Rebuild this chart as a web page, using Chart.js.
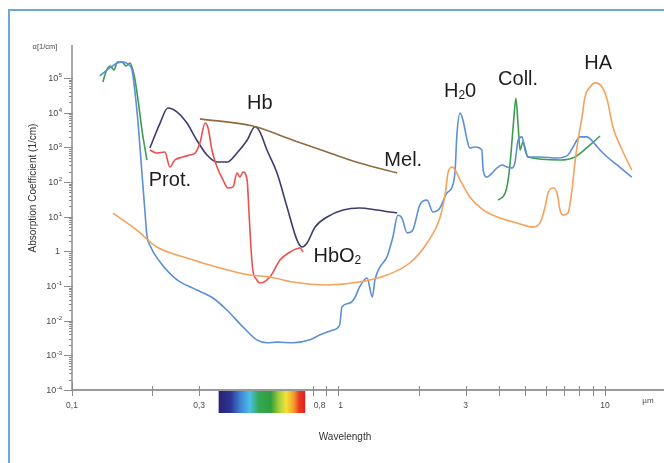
<!DOCTYPE html>
<html><head><meta charset="utf-8">
<script src="https://cdn.jsdelivr.net/npm/chart.js@4"></script>
<style>html,body{margin:0;padding:0;background:#fff;}canvas{display:block;}</style>
</head><body>
<canvas id="c" width="664" height="463"></canvas>
<script>
// ---- data (wavelength in µm, absorption coefficient in 1/cm) ----
const waterWl = [0.127,0.139,0.148,0.156,0.162,0.168,0.172,0.177,0.183,0.188,0.191,0.196,0.214,0.248,0.294,0.338,0.382,0.438,0.494,0.539,0.588,0.675,0.782,0.853,0.954,1.01,1.03,1.10,1.15,1.20,1.28,1.34,1.37,1.43,1.52,1.60,1.67,1.73,1.81,1.90,2.02,2.15,2.26,2.40,2.55,2.67,2.74,2.78,2.86,2.93,3.04,3.11,3.25,3.45,3.49,3.61,3.77,3.93,4.11,4.29,4.48,4.59,4.72,4.88,5.01,5.14,5.70,6.61,7.26,7.59,8.06,8.56,9.02,9.58,10.2,11.1,12.6];
const waterAbs = [1.14e5,2.0e5,2.7e5,2.9e5,2.5e5,1.7e5,4.5e4,5.0e3,181,12.7,2.9,1.5,0.49,0.149,0.077,0.045,0.020,0.0066,0.0028,0.0023,0.0024,0.0023,0.0028,0.0039,0.0054,0.0075,0.025,0.032,0.045,0.094,0.17,0.048,0.15,0.35,0.69,2.6,11,9.1,3.4,4.1,22,30,13.6,17.8,48,72,221,2.2e3,9.8e3,6.1e3,1.6e3,955,1.02e3,836,221,139,181,253,309,270,253,352,1.6e3,2.0e3,836,525,525,491,600,1.02e3,2.0e3,2.0e3,1.42e3,836,525,309,139];

const collUvWl = [0.1306,0.134,0.139,0.1438,0.148,0.154,0.1595,0.165,0.171,0.177,0.183,0.191];
const collUvAbs = [7.65e4,1.49e5,2.21e5,1.70e5,2.89e5,2.89e5,2.21e5,2.70e5,1.22e5,2.3e4,3.2e3,430];

const collIrWl = [3.97,4.22,4.33,4.40,4.48,4.56,4.63,4.72,4.80,4.92,5.14,6.78,7.71,8.79,9.58];
const collIrAbs = [30,48,114,309,1.6e3,8.5e3,2.6e4,4.4e3,836,1.42e3,525,430,525,1.17e3,2.12e3];

const hbo2Wl = [0.196,0.208,0.223,0.233,0.243,0.261,0.277,0.290,0.302,0.316,0.324,0.335,0.350,0.369,0.385,0.402,0.416,0.427,0.438,0.454,0.462,0.470,0.477,0.494,0.507,0.553,0.603,0.658,0.717,0.736];
const hbo2Abs = [836,685,732,270,430,525,600,685,1.33e3,5.0e3,3.6e3,836,270,114,67,72,181,139,194,114,11.1,1.09,0.289,0.149,0.122,0.182,0.56,0.955,1.25,0.955];

const hbWl = [0.196,0.214,0.229,0.248,0.270,0.294,0.321,0.350,0.382,0.416,0.454,0.486,0.507,0.539,0.588,0.641,0.699,0.730,0.762,0.817,0.906,1.04,1.20,1.39,1.66];
const hbAbs = [955,5.0e3,1.36e4,1.04e4,5.0e3,1.6e3,600,377,377,685,1.6e3,3.9e3,2.8e3,836,181,19,2.1,1.33,1.74,5.0,9.8,15.6,17.8,15.6,12.7];

const melWl = [0.302,0.477,0.675,0.906,1.20,1.66];
const melAbs = [6.6e3,4.1e3,1.6e3,732,352,181];

const haWl = [0.1425,0.175,0.208,0.270,0.359,0.466,0.553,0.675,0.906,1.20,1.52,1.85,2.15,2.40,2.51,2.58,2.67,2.74,2.86,3.11,3.49,4.04,4.67,5.37,5.70,5.96,6.11,6.38,6.61,6.78,6.95,7.26,7.52,7.71,7.92,8.20,8.41,8.79,9.17,9.75,10.2,10.7,11.6,12.6];
const haAbs = [12.7,4.1,1.33,0.64,0.33,0.207,0.182,0.130,0.107,0.130,0.207,0.46,1.74,9.1,42,194,270,221,114,37,15.6,9.1,6.6,5.0,6.6,19,48,67,48,15.6,11.1,12.7,59,352,1.6e3,7.5e3,2.8e4,5.5e4,7.2e4,5.5e4,2.3e4,3.9e3,836,221];

// ---- ticks and labels ----
const yTickExps = [-4,-3,-2,-1,0,1,2,3,4,5];
const xTickValues = [0.1,0.3,0.8,1,3,10];
const xTickLabels = ['0,1','0,3','0,8','1','3','10'];
const xMinorTicks = [0.2,0.9,2,4,5,6,7,8,9];
const spectrumRange = [0.355,0.75];
const annotationTexts = [
  [['Hb']], [['Prot.']], [['Mel.']], [['HbO'],['2',1]], [['H'],['2',1],['0']], [['Coll.']], [['HA']]
];
const annotationWl  = [0.507, 0.233, 1.75, 0.99, 2.86, 4.72, 9.42];
const annotationAbs = [2.0e4, 122, 460, 0.78, 4.6e4, 1.0e5, 3.0e5];

const FONT = '"Liberation Sans", Arial, sans-serif';
const pts = (xs, ys) => xs.map((x, i) => ({x: x, y: ys[i]}));

function drawParts(ctx, parts, cx, cy, size) {
  let w = 0;
  parts.forEach(p => { ctx.font = (p[1] ? size*0.6 : size) + 'px ' + FONT; w += ctx.measureText(p[0]).width; });
  let x = cx - w/2;
  const base = cy + size*0.36;
  ctx.textAlign = 'left'; ctx.textBaseline = 'alphabetic';
  parts.forEach(p => {
    ctx.font = (p[1] ? size*0.6 : size) + 'px ' + FONT;
    ctx.fillText(p[0], x, p[1] ? base + size*0.1 : base);
    x += ctx.measureText(p[0]).width;
  });
}

const deco = {
  id: 'deco',
  beforeDraw(chart) {
    const ctx = chart.ctx;
    ctx.save();
    ctx.fillStyle = '#ffffff';
    ctx.fillRect(0, 0, chart.width, chart.height);
    ctx.strokeStyle = '#6ea6d6';
    ctx.lineWidth = 2;
    ctx.beginPath(); ctx.moveTo(9, 463); ctx.lineTo(9, 10); ctx.lineTo(664, 10); ctx.stroke();
    ctx.restore();
  },
  afterDraw(chart) {
    const ctx = chart.ctx, xs = chart.scales.x, ys = chart.scales.y, a = chart.chartArea;
    ctx.save();
    // spectrum bar
    const sx0 = xs.getPixelForValue(spectrumRange[0]), sx1 = xs.getPixelForValue(spectrumRange[1]);
    const g = ctx.createLinearGradient(sx0, 0, sx1, 0);
    [[0,'#2a2170'],[0.14,'#2c3596'],[0.25,'#3f82d4'],[0.36,'#4cc0e8'],[0.46,'#37a858'],[0.6,'#2f9e3c'],[0.7,'#a8d03a'],[0.78,'#f2e436'],[0.87,'#f39a2a'],[0.93,'#ea3a26'],[1,'#e4201e']].forEach(s => g.addColorStop(s[0], s[1]));
    ctx.fillStyle = g;
    ctx.fillRect(sx0, a.bottom, sx1 - sx0, 23);

    // axes
    ctx.strokeStyle = '#8c8c8c';
    ctx.lineWidth = 1.5;
    ctx.beginPath(); ctx.moveTo(a.left, a.top); ctx.lineTo(a.left, a.bottom); ctx.stroke();
    ctx.strokeStyle = '#9a9a9a';
    ctx.lineWidth = 2;
    ctx.beginPath(); ctx.moveTo(a.left, a.bottom); ctx.lineTo(a.right, a.bottom); ctx.stroke();

    // y ticks
    ctx.strokeStyle = '#8c8c8c';
    ctx.lineWidth = 1;
    yTickExps.forEach(e => {
      const py = Math.round(ys.getPixelForValue(Math.pow(10, e))) + 0.5;
      ctx.beginPath(); ctx.moveTo(a.left - 8, py); ctx.lineTo(a.left + 1, py); ctx.stroke();
      if (e < 5) for (let m = 2; m <= 9; m++) {
        const pm = Math.round(ys.getPixelForValue(m * Math.pow(10, e))) + 0.5;
        ctx.beginPath(); ctx.moveTo(a.left - 3, pm); ctx.lineTo(a.left, pm); ctx.stroke();
      }
    });
    // x ticks
    xTickValues.concat(xMinorTicks).forEach(v => {
      const px = Math.round(xs.getPixelForValue(v)) + 0.5;
      if (px > sx0 && px < sx1) return;
      ctx.beginPath(); ctx.moveTo(px, a.bottom - (v === 0.1 ? 8 : 4)); ctx.lineTo(px, a.bottom + 6); ctx.stroke();
    });

    // y tick labels
    ctx.fillStyle = '#4a4a4a';
    yTickExps.forEach(e => {
      const py = ys.getPixelForValue(Math.pow(10, e));
      const right = 62;
      if (e === 0) {
        ctx.font = '9px ' + FONT; ctx.textAlign = 'right'; ctx.textBaseline = 'middle';
        ctx.fillText('1', right - 2, py + 0.5);
      } else {
        const es = String(e);
        ctx.font = '6px ' + FONT;
        const ew = ctx.measureText(es).width;
        ctx.textAlign = 'left'; ctx.textBaseline = 'alphabetic';
        ctx.fillText(es, right - ew, py - 0.5);
        ctx.font = '9px ' + FONT; ctx.textAlign = 'right'; ctx.textBaseline = 'middle';
        ctx.fillText('10', right - ew - 0.5, py + 0.5);
      }
    });
    ctx.font = '7.5px ' + FONT; ctx.textAlign = 'center'; ctx.textBaseline = 'middle';
    ctx.fillText('\u03b1[1/cm]', 45, 47);

    // x tick labels
    ctx.font = '8.5px ' + FONT; ctx.textAlign = 'center'; ctx.textBaseline = 'middle';
    xTickValues.forEach((v, i) => {
      let px = xs.getPixelForValue(v);
      if (xTickLabels[i] === '0,8') px += 7;
      if (xTickLabels[i] === '1') px += 2;
      ctx.fillText(xTickLabels[i], px, 406);
    });
    ctx.font = '8px ' + FONT;
    ctx.fillText('\u00b5m', 648, 401);

    // axis titles
    ctx.fillStyle = '#333';
    ctx.font = '10px ' + FONT;
    ctx.fillText('Wavelength', 345, 437);
    ctx.save();
    ctx.translate(33, 188); ctx.rotate(-Math.PI/2);
    ctx.fillText('Absorption Coefficient (1/cm)', 0, 0);
    ctx.restore();

    // curve annotations
    ctx.fillStyle = '#1e1e1e';
    annotationTexts.forEach((t, i) => {
      drawParts(ctx, t, xs.getPixelForValue(annotationWl[i]), ys.getPixelForValue(annotationAbs[i]), 20);
    });
    ctx.restore();
  }
};

const mk = (xs, ys, color) => ({data: pts(xs, ys), borderColor: color, borderWidth: 1.6, pointRadius: 0, fill: false, cubicInterpolationMode: 'monotone'});

new Chart(document.getElementById('c'), {
  type: 'line',
  data: {
    datasets: [
      mk(haWl, haAbs, '#f4a25c'),
      mk(melWl, melAbs, '#8f6b3e'),
      mk(hbo2Wl, hbo2Abs, '#e9524f'),
      mk(hbWl, hbAbs, '#3d3c70'),
      mk(waterWl, waterAbs, '#5b8fd6'),
      mk(collUvWl, collUvAbs, '#3f9b52'),
      mk(collIrWl, collIrAbs, '#3f9b52')
    ]
  },
  options: {
    responsive: false,
    animation: false,
    parsing: true,
    layout: {padding: {top: 45, left: 0, right: 0, bottom: 0}},
    plugins: {legend: {display: false}, tooltip: {enabled: false}},
    scales: {
      x: {type: 'logarithmic', min: 0.1, max: 16.65, ticks: {display: false}, grid: {display: false}, border: {display: false},
          afterFit: s => { s.height = 73; }},
      y: {type: 'logarithmic', min: 1e-4, max: 8.93e5, ticks: {display: false}, grid: {display: false}, border: {display: false},
          afterFit: s => { s.width = 72; }}
    }
  },
  plugins: [deco]
});
</script>
</body></html>
